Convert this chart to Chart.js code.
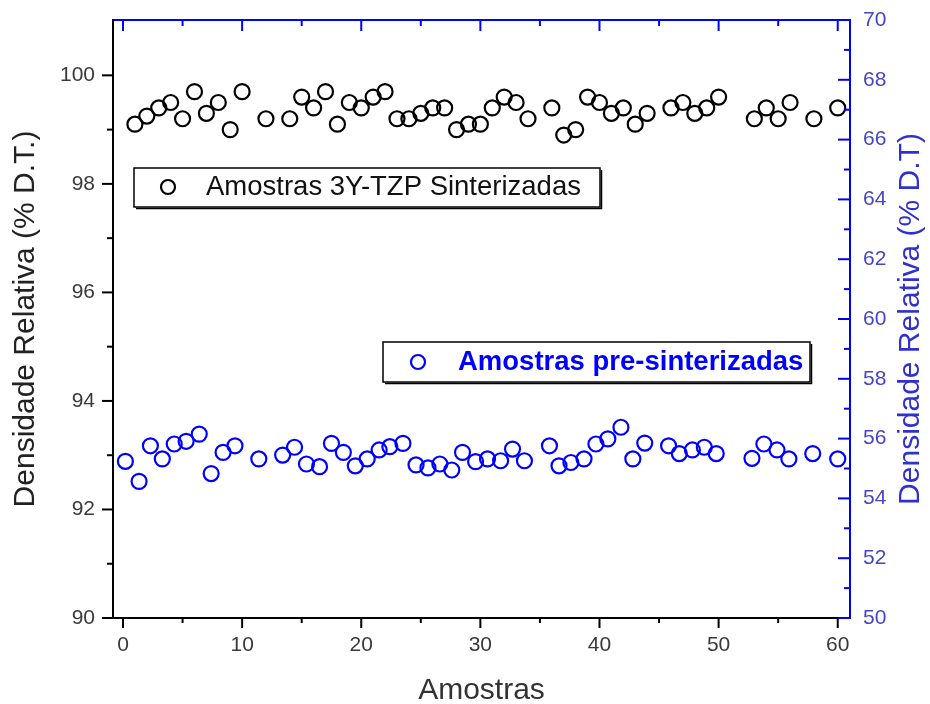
<!DOCTYPE html>
<html>
<head>
<meta charset="utf-8">
<title>Densidade relativa</title>
<script src="https://cdn.jsdelivr.net/npm/chart.js@4.4.1/dist/chart.umd.min.js"></script>
<style>
  html, body { margin: 0; padding: 0; background: #fff; }
  #wrap { width: 930px; height: 704px; }
</style>
</head>
<body>
<div id="wrap"><canvas id="grafico" width="930" height="704"></canvas></div>
<script>
// Amostras sinterizadas (eixo esquerdo)
const sinterX = [1, 2, 3, 4, 5, 6, 7, 8, 9, 10, 12, 14, 15, 16, 17, 18, 19, 20, 21, 22, 23, 24, 25, 26, 27, 28,
  29, 30, 31, 32, 33, 34, 36, 37, 38, 39, 40, 41, 42, 43, 44, 46, 47, 48, 49, 50, 53, 54, 55, 56, 58, 60];
const sinterY = [99.1, 99.25, 99.4, 99.5, 99.2, 99.7, 99.3, 99.5, 99.0, 99.7, 99.2, 99.2, 99.6, 99.4, 99.7, 99.1,
  99.5, 99.4, 99.6, 99.7, 99.2, 99.2, 99.3, 99.4, 99.4, 99.0, 99.1, 99.1, 99.4, 99.6, 99.5, 99.2, 99.4, 98.9,
  99.0, 99.6, 99.5, 99.3, 99.4, 99.1, 99.3, 99.4, 99.5, 99.3, 99.4, 99.6, 99.2, 99.4, 99.2, 99.5, 99.2, 99.4];

// Amostras pre-sinterizadas (eixo direito)
const preX = [0.2, 1.35, 2.3, 3.3, 4.3, 5.3, 6.4, 7.4, 8.4, 9.4, 11.4, 13.4, 14.4, 15.4, 16.5, 17.5, 18.5, 19.5,
  20.5, 21.5, 22.4, 23.5, 24.6, 25.6, 26.6, 27.6, 28.5, 29.6, 30.6, 31.7, 32.7, 33.7, 35.8, 36.6, 37.6, 38.7,
  39.7, 40.7, 41.8, 42.8, 43.8, 45.8, 46.7, 47.8, 48.8, 49.8, 52.8, 53.8, 54.9, 55.9, 57.9, 60.0];
const preY = [55.24, 54.57, 55.76, 55.32, 55.82, 55.91, 56.15, 54.83, 55.54, 55.76, 55.32, 55.45, 55.71, 55.15,
  55.06, 55.84, 55.54, 55.09, 55.32, 55.62, 55.73, 55.84, 55.12, 55.02, 55.15, 54.95, 55.54, 55.23, 55.32,
  55.26, 55.65, 55.26, 55.76, 55.09, 55.20, 55.32, 55.82, 55.99, 56.38, 55.32, 55.85, 55.76, 55.50, 55.62,
  55.71, 55.50, 55.34, 55.82, 55.62, 55.32, 55.50, 55.32];

// Marcas dos eixos
const xTicks = [0, 10, 20, 30, 40, 50, 60];
const xMinor = [5, 15, 25, 35, 45, 55];
const leftTicks = [90, 92, 94, 96, 98, 100];
const leftMinor = [91, 93, 95, 97, 99];
const rightTicks = [50, 52, 54, 56, 58, 60, 62, 64, 66, 68, 70];
const rightMinor = [51, 53, 55, 57, 59, 61, 63, 65, 67, 69];

const xMin = -0.84, xMax = 61.03;
const leftMin = 90, leftMax = 101.02;
const rightMin = 50, rightMax = 70;

const labelSinter = 'Amostras 3Y-TZP Sinterizadas';
const labelPre = 'Amostras pre-sinterizadas';
const rightTitle = 'Densidade Relativa (% D.T)';

const BLUE = '#0000ff';
const tickFont = { family: "'Liberation Sans Narrow', 'Liberation Sans', Arial, sans-serif", size: 21 };
const titleFamily = "'Liberation Sans', Arial, sans-serif";

const asTicks = arr => arr.map(v => ({ value: v }));

// desenha as marcas (maiores e menores) de cada eixo
const marcasEixos = {
  id: 'marcasEixos',
  afterDraw(chart) {
    const { ctx, chartArea: a } = chart;
    const { x, y, y2 } = chart.scales;
    ctx.save();
    ctx.lineWidth = 2;
    ctx.lineCap = 'butt';

    function seg(x0, y0, x1, y1) {
      ctx.beginPath();
      ctx.moveTo(x0, y0);
      ctx.lineTo(x1, y1);
      ctx.stroke();
    }

    // baixo (para fora) e esquerda (para fora), pretos
    ctx.strokeStyle = '#000';
    xTicks.forEach(v => { const p = x.getPixelForValue(v); seg(p, a.bottom, p, a.bottom + 10); });
    xMinor.forEach(v => { const p = x.getPixelForValue(v); seg(p, a.bottom, p, a.bottom + 5); });
    leftTicks.forEach(v => { const p = y.getPixelForValue(v); seg(a.left - 11, p, a.left, p); });
    leftMinor.forEach(v => { const p = y.getPixelForValue(v); seg(a.left - 6, p, a.left, p); });

    // topo e direita (para dentro), azuis
    ctx.strokeStyle = BLUE;
    xTicks.forEach(v => { const p = x.getPixelForValue(v); seg(p, a.top, p, a.top + 11); });
    xMinor.forEach(v => { const p = x.getPixelForValue(v); seg(p, a.top, p, a.top + 6); });
    rightTicks.forEach(v => { const p = y2.getPixelForValue(v); seg(a.right - 12, p, a.right, p); });
    rightMinor.forEach(v => { const p = y2.getPixelForValue(v); seg(a.right - 6, p, a.right, p); });

    // titulo do eixo direito (lido de baixo para cima)
    ctx.fillStyle = '#3030d0';
    ctx.font = '30px ' + titleFamily;
    ctx.textAlign = 'center';
    ctx.textBaseline = 'middle';
    ctx.translate(911, (a.top + a.bottom) / 2);
    ctx.rotate(-Math.PI / 2);
    ctx.fillText(rightTitle, 0, 0);
    ctx.restore();
  }
};

// as duas caixas de legenda
const caixasLegenda = {
  id: 'caixasLegenda',
  afterDraw(chart) {
    const ctx = chart.ctx;
    const caixas = [
      { ds: 0, box: [134, 168, 466, 39], mark: [168, 187], textX: 206, color: '#000', text: '#111', weight: 'normal' },
      { ds: 1, box: [383, 342, 427, 40], mark: [418, 362], textX: 458, color: BLUE, text: BLUE, weight: 'bold' }
    ];
    ctx.save();
    caixas.forEach(c => {
      const [bx, by, bw, bh] = c.box;
      ctx.fillStyle = '#fff';
      ctx.fillRect(bx, by, bw, bh);
      ctx.strokeStyle = '#000';
      ctx.lineWidth = 1.5;
      ctx.strokeRect(bx, by, bw, bh);
      // sombra fina em baixo e a direita
      ctx.beginPath();
      ctx.moveTo(bx + 2, by + bh + 1.5);
      ctx.lineTo(bx + bw + 1.5, by + bh + 1.5);
      ctx.lineTo(bx + bw + 1.5, by + 2);
      ctx.stroke();

      ctx.strokeStyle = c.color;
      ctx.lineWidth = 2.2;
      ctx.beginPath();
      ctx.arc(c.mark[0], c.mark[1], 7, 0, Math.PI * 2);
      ctx.stroke();

      ctx.fillStyle = c.text;
      ctx.font = c.weight + ' 27.5px ' + titleFamily;
      ctx.textAlign = 'left';
      ctx.textBaseline = 'middle';
      ctx.fillText(chart.data.datasets[c.ds].label, c.textX, c.mark[1]);
    });
    ctx.restore();
  }
};

const ctx = document.getElementById('grafico');

new Chart(ctx, {
  type: 'scatter',
  data: {
    datasets: [
      {
        label: labelSinter,
        data: sinterX.map((v, i) => ({ x: v, y: sinterY[i] })),
        xAxisID: 'x',
        yAxisID: 'y',
        pointStyle: 'circle',
        pointRadius: 7.5,
        pointHoverRadius: 7.5,
        pointBorderWidth: 2.2,
        borderColor: '#000',
        backgroundColor: 'rgba(0,0,0,0)'
      },
      {
        label: labelPre,
        data: preX.map((v, i) => ({ x: v, y: preY[i] })),
        xAxisID: 'x',
        yAxisID: 'y2',
        pointStyle: 'circle',
        pointRadius: 7.5,
        pointHoverRadius: 7.5,
        pointBorderWidth: 2.2,
        borderColor: BLUE,
        backgroundColor: 'rgba(0,0,0,0)'
      }
    ]
  },
  options: {
    responsive: false,
    animation: false,
    layout: { padding: { top: 20, left: 0, right: 0, bottom: 0 } },
    plugins: {
      legend: { display: false },
      tooltip: { enabled: false }
    },
    scales: {
      x: {
        type: 'linear',
        position: 'bottom',
        min: xMin,
        max: xMax,
        afterBuildTicks: s => { s.ticks = asTicks(xTicks); },
        afterFit: s => { s.height = 86; },
        ticks: { font: tickFont, color: '#3a3a3a', padding: 5, maxRotation: 0, autoSkip: false },
        grid: { display: true, drawOnChartArea: false, color: 'rgba(0,0,0,0)', drawTicks: true, tickLength: 10 },
        border: { display: true, color: '#000', width: 2 },
        title: {
          display: true,
          text: 'Amostras',
          color: '#333',
          font: { family: titleFamily, size: 30, lineHeight: 0.9 },
          padding: { top: 0, bottom: 0 }
        }
      },
      x2: {
        type: 'linear',
        position: 'top',
        min: xMin,
        max: xMax,
        afterFit: s => { s.height = 0; },
        ticks: { display: false },
        grid: { display: false, drawTicks: false },
        border: { display: true, color: BLUE, width: 2 }
      },
      y: {
        type: 'linear',
        position: 'left',
        min: leftMin,
        max: leftMax,
        afterBuildTicks: s => { s.ticks = asTicks(leftTicks); },
        afterFit: s => { s.width = 113; },
        ticks: { font: tickFont, color: '#3a3a3a', padding: 7 },
        grid: { display: true, drawOnChartArea: false, color: 'rgba(0,0,0,0)', drawTicks: true, tickLength: 11 },
        border: { display: true, color: '#000', width: 2 },
        title: {
          display: true,
          text: 'Densidade Relativa (% D.T.)',
          color: '#222',
          font: { family: titleFamily, size: 30, lineHeight: 1.2 },
          padding: { top: 8, bottom: 0 }
        }
      },
      y2: {
        type: 'linear',
        position: 'right',
        min: rightMin,
        max: rightMax,
        afterBuildTicks: s => { s.ticks = asTicks(rightTicks); },
        afterFit: s => { s.width = 80; },
        ticks: { font: tickFont, color: '#4646c4', padding: 7 },
        grid: { display: true, drawOnChartArea: false, color: 'rgba(0,0,0,0)', drawTicks: true, tickLength: 6 },
        border: { display: true, color: BLUE, width: 2 }
      }
    }
  },
  plugins: [marcasEixos, caixasLegenda]
});
</script>
</body>
</html>
